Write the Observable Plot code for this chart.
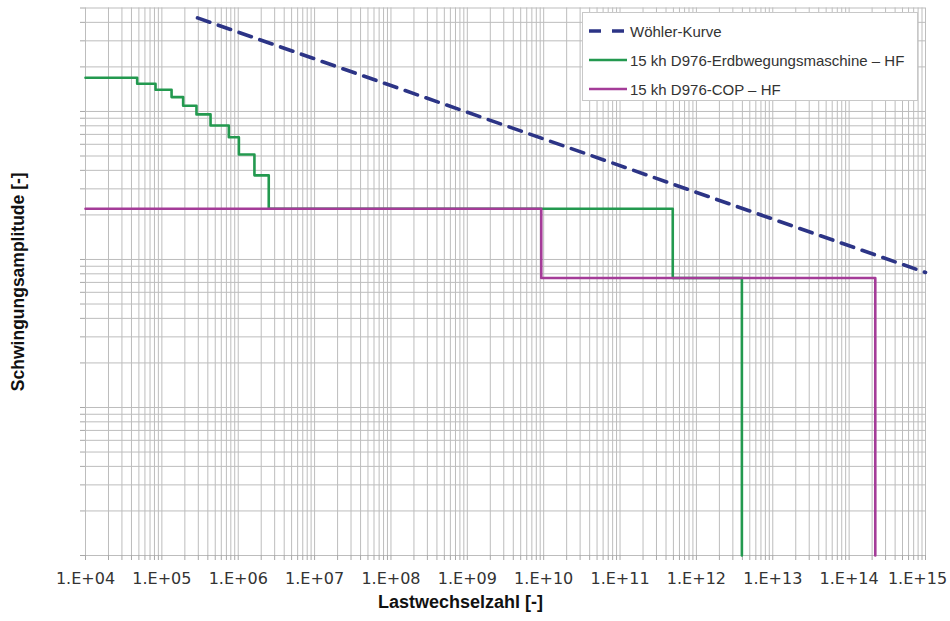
<!DOCTYPE html>
<html>
<head>
<meta charset="utf-8">
<script src="https://cdn.jsdelivr.net/npm/d3@7"></script>
<script src="https://cdn.jsdelivr.net/npm/@observablehq/plot@0.6"></script>
<style>
  html, body { margin: 0; padding: 0; background: #fff; }
  #wrap { position: relative; width: 950px; height: 621px; }
  #legend {
    position: absolute; left: 582px; top: 12px; width: 336px; height: 89px;
    background: #fff; border: 1px solid #c8c8c8; box-sizing: border-box;
    font-family: "Liberation Sans", Arial, sans-serif; font-size: 15px; color: #333;
  }
  .item { position: absolute; left: 6px; height: 20px; display: flex; align-items: center; }
  .item svg { margin-right: 3px; }
</style>
</head>
<body>
<div id="wrap"><div id="legend"></div></div>
<script>
// ---- data ----
const xDecades = [1e4, 1e5, 1e6, 1e7, 1e8, 1e9, 1e10, 1e11, 1e12, 1e13, 1e14, 1e15];
const xTickLabels = ["1.E+04", "1.E+05", "1.E+06", "1.E+07", "1.E+08", "1.E+09",
                     "1.E+10", "1.E+11", "1.E+12", "1.E+13", "1.E+14", "1.E+15"];
const xDomain = [1e4, 1e15];
const yDomain = [1, 5000];

const seriesNames = ["Wöhler-Kurve", "15 kh D976-Erdbwegungsmaschine – HF", "15 kh D976-COP – HF"];
const seriesColors = ["#2c3486", "#23994f", "#a43c98"];

const woehlerN = [2.93e5, 1e15];
const woehlerA = [4285, 81.7];

const erdN = [1e4, 4.75e4, 8.26e4, 1.34e5, 1.9e5, 2.84e5, 4.34e5, 7.53e5, 1.02e6, 1.63e6, 2.51e6, 4.9e11, 3.94e12, 3.94e12];
const erdA = [1690, 1538, 1402, 1250, 1093, 955, 804, 670, 512, 370, 220, 75, 75, 1];

const copN = [1e4, 9.3e9, 2.2e14, 2.2e14];
const copA = [220, 75, 75, 1];

const xTitle = "Lastwechselzahl [-]";
const yTitle = "Schwingungsamplitude [-]";

// ---- build ----
const toRows = (N, A) => N.map((n, i) => ({n, a: A[i]}));
const woehler = toRows(woehlerN, woehlerA);
const erd = toRows(erdN, erdA);
const cop = toRows(copN, copA);

const xMinor = d3.scaleLog().domain(xDomain).ticks(20);
const yMinor = d3.scaleLog().domain(yDomain).ticks(20);
const labelOf = new Map(xDecades.map((d, i) => [d, xTickLabels[i]]));
const lastDecade = xDecades[xDecades.length - 1];

const gridColor = "#bdbdbd";
const labelStyle = {tickSize: 0, tickPadding: 17, tickFormat: d => labelOf.get(d),
  fontSize: 16, fontFamily: "DejaVu Sans", fill: "#333", label: null};

const chart = Plot.plot({
  width: 950,
  height: 621,
  marginLeft: 85,
  marginRight: 25,
  marginTop: 7.5,
  marginBottom: 66,
  x: {type: "log", domain: xDomain, label: null},
  y: {type: "log", domain: yDomain, label: null},
  style: {background: "#fff", fontFamily: "Liberation Sans, Arial, sans-serif", overflow: "visible"},
  marks: [
    Plot.gridX(xMinor, {stroke: gridColor, strokeOpacity: 1, strokeWidth: 1}),
    Plot.gridY(yMinor, {stroke: gridColor, strokeOpacity: 1, strokeWidth: 1}),
    Plot.axisX(xMinor, {tickSize: 5, tickFormat: () => "", stroke: "#a8a8a8", label: null}),
    Plot.axisY(yMinor, {tickSize: 5, tickFormat: () => "", stroke: "#a8a8a8", label: null}),
    Plot.axisX(xDecades.filter(d => d !== lastDecade), labelStyle),
    Plot.axisX([lastDecade], {...labelStyle, dx: -8}),
    Plot.line(erd, {x: "n", y: "a", curve: "step-after", stroke: seriesColors[1], strokeWidth: 2.6}),
    Plot.line(cop, {x: "n", y: "a", curve: "step-after", stroke: seriesColors[2], strokeWidth: 2.6}),
    Plot.line(woehler, {x: "n", y: "a", stroke: seriesColors[0], strokeWidth: 3.6, strokeDasharray: "13,9"}),
    Plot.text([xTitle], {frameAnchor: "bottom", dy: 52, dx: -45, fontSize: 18, fontWeight: "bold", fill: "#111"}),
    Plot.text([yTitle], {frameAnchor: "left", textAnchor: "middle", dx: -67, rotate: -90, fontSize: 17.5, fontWeight: "bold", fill: "#111"})
  ]
});

const wrap = document.getElementById("wrap");
wrap.insertBefore(chart, wrap.firstChild);

// legend
const legend = document.getElementById("legend");
const rowsTop = [8, 37, 66];
seriesNames.forEach((name, i) => {
  const item = document.createElement("div");
  item.className = "item";
  item.style.top = rowsTop[i] + "px";
  const dash = i === 0 ? 'stroke-dasharray="12,11"' : "";
  item.innerHTML = `<svg width="38" height="6"><line x1="0" y1="3" x2="38" y2="3" stroke="${seriesColors[i]}" stroke-width="${i === 0 ? 3.6 : 2.6}" ${dash}/></svg><span>${name}</span>`;
  legend.appendChild(item);
});
</script>
</body>
</html>
